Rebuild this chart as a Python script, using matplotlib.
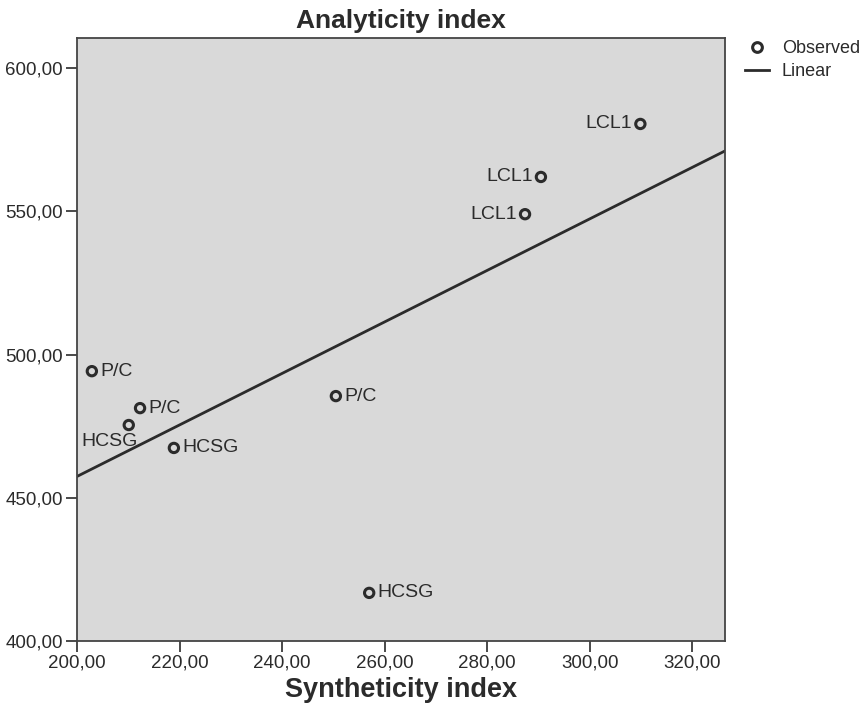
import numpy as np
import matplotlib.pyplot as plt
from matplotlib.lines import Line2D
from matplotlib.ticker import FuncFormatter

plt.rcParams['font.family'] = ['Liberation Sans', 'DejaVu Sans']

# valores
sintetico = [202.9, 212.3, 210.1, 218.9, 250.5, 257.0, 290.5, 287.4, 309.9]
analitico = [494.2, 481.3, 475.4, 467.4, 485.5, 416.8, 562.0, 549.0, 580.5]
rotulos = ['P/C', 'P/C', 'HCSG', 'HCSG', 'P/C', 'HCSG', 'LCL1', 'LCL1', 'LCL1']
# posição do rótulo: direita, esquerda ou abaixo
lado = ['r', 'r', 'b', 'r', 'r', 'r', 'l', 'l', 'l']

cor = '#2b2b2b'

fig = plt.figure(figsize=(8.68, 7.12), dpi=100)
ax = fig.add_axes([0.0887, 0.0997, 0.7465, 0.8469])
ax.set_facecolor('#d9d9d9')

xmin, xmax = 200, 326.4
ax.set_xlim(xmin, xmax)
ax.set_ylim(400, 610.5)

# reta de regressão linear
a, b = np.polyfit(sintetico, analitico, 1)
xs = np.array([xmin, xmax])
ax.plot(xs, a * xs + b, color=cor, lw=2, zorder=2)

ax.scatter(sintetico, analitico, s=45, facecolors='none', edgecolors=cor,
           linewidths=2.2, zorder=3)

fs = 14
for x, y, t, l in zip(sintetico, analitico, rotulos, lado):
    if l == 'r':
        ax.annotate(t, (x, y), xytext=(6, 0), textcoords='offset points',
                    ha='left', va='center', fontsize=fs, color=cor)
    elif l == 'l':
        ax.annotate(t, (x, y), xytext=(-6, 0), textcoords='offset points',
                    ha='right', va='center', fontsize=fs, color=cor)
    else:
        ax.annotate(t, (x, y), xytext=(-14, -6), textcoords='offset points',
                    ha='center', va='top', fontsize=fs, color=cor)

ax.set_xticks(np.arange(200, 321, 20))
ax.set_yticks(np.arange(400, 601, 50))
fmt = FuncFormatter(lambda v, p: f'{v:.2f}'.replace('.', ','))
ax.xaxis.set_major_formatter(fmt)
ax.yaxis.set_major_formatter(fmt)
ax.tick_params(labelsize=13.5, colors=cor, length=8, width=1.2, direction='out', pad=2)
for s in ax.spines.values():
    s.set_color('#444444')
    s.set_linewidth(1.3)

ax.set_title('Analyticity index', fontsize=19, fontweight='bold', color=cor, pad=7)
ax.set_xlabel('Syntheticity index', fontsize=19.5, fontweight='bold', color=cor, labelpad=4)

handles = [Line2D([], [], marker='o', ls='none', mfc='none', mec=cor, mew=2.2, ms=7),
           Line2D([], [], color=cor, lw=2)]
fig.legend(handles, ['Observed', 'Linear'], loc='upper left',
           bbox_to_anchor=(0.858, 0.944), frameon=False, fontsize=13,
           borderpad=0, borderaxespad=0,
           handlelength=1.35, handletextpad=0.7, labelspacing=0.35, labelcolor=cor)

fig.savefig('out.png', dpi=100)
